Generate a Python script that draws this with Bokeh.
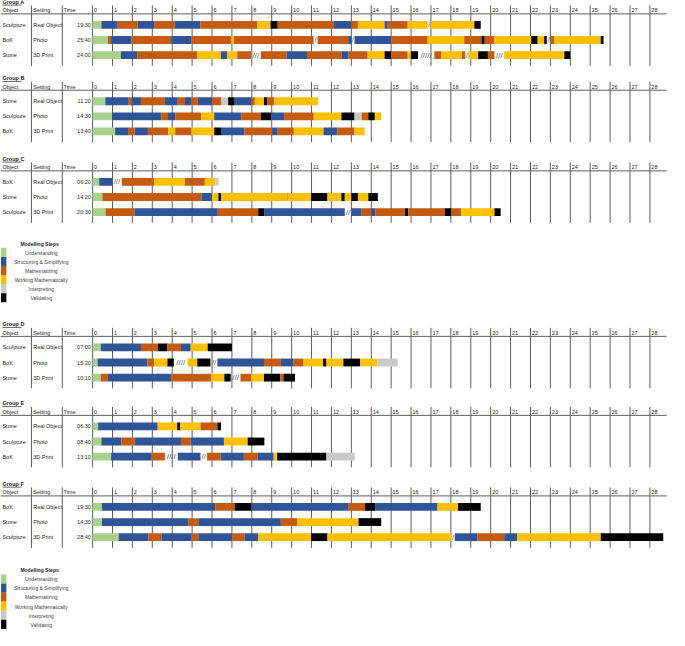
from bokeh.plotting import figure
from bokeh.models import Range1d, ColumnDataSource
from bokeh.embed import file_html
from bokeh.resources import INLINE
from bokeh.core.properties import value

# ---------------- data ----------------
group_titles = ["Group A", "Group B", "Group C", "Group D", "Group E", "Group F"]
header_labels = ["Object", "Setting", "Time"]
minute_ticks = list(range(0, 29))

step_codes = ["U", "S", "M", "W", "I", "V"]
step_names = ["Understanding", "Structuring & Simplifying", "Mathematizing",
              "Working Mathematically", "Interpreting", "Validating"]
legend_title = "Modelling Steps"

A_objects = ["Sculpture", "BoK", "Stone"]
A_settings = ["Real Object", "Photo", "3D Print"]
A_times = ["19:30", "25:40", "24:00"]
A1_steps = ["U", "S", "M", "S", "M", "S", "M", "W", "V", "M", "S", "M", "W", "S", "M", "W", "/", "W", "V"]
A1_ends = [0.44, 1.26, 2.27, 3.09, 4.12, 5.42, 8.28, 8.94, 9.3, 12.12, 13.0, 13.33, 14.67, 14.83, 15.83, 16.84, 17.0, 19.18, 19.5]
A2_steps = ["U", "M", "S", "M", "S", "M", "W", "M", "/", "M", "S", "/", "S", "M", "W", "M", "V", "M", "W", "V", "W", "V", "/", "M", "W", "V"]
A2_ends = [0.77, 0.93, 1.96, 3.95, 4.97, 6.97, 7.1, 11.1, 11.3, 12.84, 13.0, 13.16, 15.0, 16.84, 18.67, 19.54, 19.7, 20.19, 22.04, 22.36, 22.69, 22.82, 23.02, 23.18, 25.53, 25.67]
A3_steps = ["U", "S", "M", "W", "S", "W", "M", "/", "M", "S", "M", "S", "M", "W", "V", "M", "W", "V", "/", "M", "W", "M", "/", "W", "V", "M", "/", "W", "V"]
A3_ends = [1.42, 2.24, 5.26, 6.44, 6.76, 7.27, 7.96, 8.45, 9.75, 10.77, 12.5, 12.84, 13.82, 14.67, 15.0, 15.83, 15.99, 16.35, 17.17, 17.53, 18.56, 18.72, 18.88, 19.37, 19.86, 20.19, 20.68, 23.7, 24.0]

B_objects = ["Stone", "Sculpture", "BoK"]
B_settings = ["Real Object", "Photo", "3D Print"]
B_times = ["11:20", "14:30", "13:40"]
B1_steps = ["U", "S", "M", "S", "M", "S", "M", "S", "M", "S", "M", "I", "V", "S", "M", "W", "V", "M", "W"]
B1_ends = [0.64, 1.78, 1.94, 2.43, 3.63, 4.28, 4.64, 4.97, 5.29, 6.0, 6.45, 6.81, 7.14, 7.99, 8.15, 8.61, 8.77, 9.13, 11.33]
B2_steps = ["U", "S", "M", "S", "M", "W", "S", "M", "V", "S", "M", "W", "V", "I", "M", "V", "W"]
B2_ends = [0.98, 3.46, 3.79, 4.15, 5.46, 6.11, 7.47, 8.45, 8.97, 9.62, 11.11, 12.5, 13.16, 13.52, 13.85, 14.18, 14.5]
B3_steps = ["U", "S", "M", "S", "M", "W", "M", "W", "V", "S", "M", "S", "M", "W", "S", "M", "W"]
B3_ends = [1.13, 1.78, 2.11, 2.78, 3.79, 4.15, 4.97, 6.11, 6.45, 7.63, 9.02, 9.3, 10.11, 11.6, 12.3, 13.16, 13.67]

C_objects = ["BoK", "Stone", "Sculpture"]
C_settings = ["Real Object", "Photo", "3D Print"]
C_times = ["06:20", "14:20", "20:30"]
C1_steps = ["U", "S", "/", "M", "W", "M", "W", "I"]
C1_ends = [0.33, 0.98, 1.47, 3.1, 4.64, 5.64, 6.16, 6.33]
C2_steps = ["U", "M", "S", "W", "V", "W", "M", "W", "V", "W", "V", "W", "V", "W", "V"]
C2_ends = [0.49, 5.47, 6.0, 6.32, 6.45, 9.79, 9.84, 10.98, 11.8, 12.5, 12.67, 13.0, 13.33, 13.85, 14.33]
C3_steps = ["U", "M", "S", "M", "V", "S", "/", "S", "M", "S", "M", "V", "M", "V", "M", "W", "V"]
C3_ends = [0.65, 2.12, 6.29, 8.32, 8.64, 12.67, 13.0, 13.52, 14.0, 14.2, 15.7, 15.86, 17.69, 18.03, 18.52, 20.19, 20.5]

D_objects = ["Sculpture", "BoK", "Stone"]
D_settings = ["Real Object", "Photo", "3D Print"]
D_times = ["07:00", "15:20", "10:10"]
D1_steps = ["U", "S", "M", "V", "M", "S", "W", "V"]
D1_ends = [0.41, 2.43, 3.27, 3.76, 4.44, 4.93, 5.78, 7.0]
D2_steps = ["U", "S", "M", "W", "V", "/", "W", "V", "/", "S", "M", "S", "M", "W", "V", "W", "V", "W", "I"]
D2_ends = [0.25, 2.76, 3.09, 3.76, 4.08, 4.77, 5.26, 5.92, 6.27, 8.61, 9.46, 10.1, 10.6, 11.58, 11.75, 12.6, 13.45, 14.3, 15.33]
D3_steps = ["U", "M", "S", "M", "W", "V", "/", "M", "W", "V", "M", "V"]
D3_ends = [0.41, 0.77, 3.95, 5.95, 6.62, 6.94, 7.43, 7.96, 8.61, 9.43, 9.59, 10.17]

E_objects = ["Stone", "Sculpture", "BoK"]
E_settings = ["Real Object", "Photo", "3D Print"]
E_times = ["06:30", "08:40", "13:10"]
E1_steps = ["U", "S", "W", "V", "W", "M", "V"]
E1_ends = [0.28, 3.27, 4.25, 4.41, 5.42, 6.27, 6.45]
E2_steps = ["U", "S", "M", "S", "M", "S", "W", "V"]
E2_ends = [0.44, 1.45, 2.11, 4.44, 4.93, 6.6, 7.79, 8.63]
E3_steps = ["U", "S", "M", "/", "S", "/", "M", "S", "M", "S", "W", "V", "I"]
E3_ends = [0.93, 2.97, 3.63, 4.28, 5.42, 5.75, 6.44, 7.6, 8.28, 9.1, 9.27, 11.75, 13.17]

F_objects = ["BoK", "Stone", "Sculpture"]
F_settings = ["Real Object", "Photo", "3D Print"]
F_times = ["19:30", "14:30", "28:40"]
F1_steps = ["U", "S", "M", "V", "S", "M", "V", "S", "W", "V"]
F1_ends = [0.47, 6.16, 7.14, 7.99, 12.87, 13.69, 14.19, 17.33, 18.36, 19.5]
F2_steps = ["U", "S", "M", "S", "M", "W", "V"]
F2_ends = [0.47, 4.8, 5.31, 9.46, 10.29, 13.36, 14.5]
F3_steps = ["U", "S", "M", "S", "M", "S", "M", "S", "W", "V", "W", "/", "S", "M", "S", "W", "V"]
F3_ends = [1.31, 2.81, 3.46, 4.98, 5.31, 7.01, 7.63, 8.32, 10.98, 11.8, 18.03, 18.2, 19.34, 20.68, 21.33, 25.53, 28.67]

# ---------------- styles / layout ----------------
step_colors = {"U": "#A9D18E", "S": "#2F5597", "M": "#C55A11",
               "W": "#FFC000", "I": "#C9C9C9", "V": "#000000"}
FONT = value("Liberation Sans")
FS = "5.5px"
LINE_COL = "#5E5E5E"
X0 = 94.3          # reference px of minute 0
PPM = 20.38        # reference px per minute
REF_W, REF_H = 685, 646


def X(px):
    return (px - X0) / PPM


header_ys = [10, 88.3, 171, 340.7, 421.7, 504.3]
legend_title_ys = [249.3, 584.3]
ROW_OFF = [15, 30.5, 46]
BAR_H = 8

groups = [
    (A_objects, A_settings, A_times, [A1_steps, A2_steps, A3_steps], [A1_ends, A2_ends, A3_ends]),
    (B_objects, B_settings, B_times, [B1_steps, B2_steps, B3_steps], [B1_ends, B2_ends, B3_ends]),
    (C_objects, C_settings, C_times, [C1_steps, C2_steps, C3_steps], [C1_ends, C2_ends, C3_ends]),
    (D_objects, D_settings, D_times, [D1_steps, D2_steps, D3_steps], [D1_ends, D2_ends, D3_ends]),
    (E_objects, E_settings, E_times, [E1_steps, E2_steps, E3_steps], [E1_ends, E2_ends, E3_ends]),
    (F_objects, F_settings, F_times, [F1_steps, F2_steps, F3_steps], [F1_ends, F2_ends, F3_ends]),
]

p = figure(width=669, height=630, output_backend="svg", toolbar_location=None,
           x_range=Range1d(X(0), X(REF_W)), y_range=Range1d(REF_H, 0),
           x_axis_type=None, y_axis_type=None, min_border=0)
p.grid.visible = False
p.outline_line_color = None
p.background_fill_color = "white"
p.border_fill_color = "white"

bars = dict(left=[], right=[], top=[], bottom=[], color=[])
slashes = dict(x=[], y=[], text=[])
vl = dict(x0=[], y0=[], x1=[], y1=[])
hl = dict(x0=[], y0=[], x1=[], y1=[])
txt_left = dict(x=[], y=[], text=[])
txt_right = dict(x=[], y=[], text=[])
titles = dict(x=[], y=[], text=[])
ul = dict(x0=[], y0=[], x1=[], y1=[])

for gi, (objs, sets, times, steps_list, ends_list) in enumerate(groups):
    hy = header_ys[gi]
    titles["x"].append(X(2)); titles["y"].append(hy - 8.5); titles["text"].append(group_titles[gi])
    ul["x0"].append(X(2)); ul["x1"].append(X(21.5)); ul["y0"].append(hy - 5.3); ul["y1"].append(hy - 5.3)
    for lab, px in zip(header_labels, [2, 33.5, 64.5]):
        txt_left["x"].append(X(px)); txt_left["y"].append(hy); txt_left["text"].append(lab)
    for m in minute_ticks:
        txt_left["x"].append(m + 1.5 / PPM); txt_left["y"].append(hy); txt_left["text"].append(str(m))
    hl["x0"].append(X(0)); hl["x1"].append(X(682)); hl["y0"].append(hy + 3.7); hl["y1"].append(hy + 3.7)
    for xv in [X(31.7), X(63.3)] + [float(m) for m in minute_ticks]:
        vl["x0"].append(xv); vl["x1"].append(xv); vl["y0"].append(hy - 5); vl["y1"].append(hy + 57)
    for ri in range(3):
        ry = hy + ROW_OFF[ri]
        txt_left["x"].append(X(2)); txt_left["y"].append(ry); txt_left["text"].append(objs[ri])
        txt_left["x"].append(X(33.5)); txt_left["y"].append(ry); txt_left["text"].append(sets[ri])
        txt_right["x"].append(X(92.5)); txt_right["y"].append(ry); txt_right["text"].append(times[ri])
        start = 0.0
        for code, end in zip(steps_list[ri], ends_list[ri]):
            if code == "/":
                n = max(1, round((end - start) / 0.165))
                slashes["x"].append((start + end) / 2); slashes["y"].append(ry)
                slashes["text"].append("/" * n)
            else:
                bars["left"].append(start); bars["right"].append(end)
                bars["top"].append(ry - BAR_H / 2); bars["bottom"].append(ry + BAR_H / 2)
                bars["color"].append(step_colors[code])
            start = end

p.segment(x0="x0", y0="y0", x1="x1", y1="y1", source=ColumnDataSource(vl),
          line_color=LINE_COL, line_width=1)
p.segment(x0="x0", y0="y0", x1="x1", y1="y1", source=ColumnDataSource(hl),
          line_color=LINE_COL, line_width=1)
p.quad(left="left", right="right", top="top", bottom="bottom", color="color",
       source=ColumnDataSource(bars), line_color=None)
p.text(x="x", y="y", text="text", source=ColumnDataSource(slashes), text_font=FONT,
       text_font_size="8px", text_color="#595959", text_align="center", text_baseline="middle")
p.text(x="x", y="y", text="text", source=ColumnDataSource(txt_left), text_font=FONT,
       text_font_size=FS, text_color="#262626", text_align="left", text_baseline="middle")
p.text(x="x", y="y", text="text", source=ColumnDataSource(txt_right), text_font=FONT,
       text_font_size=FS, text_color="#262626", text_align="right", text_baseline="middle")
p.text(x="x", y="y", text="text", source=ColumnDataSource(titles), text_font=FONT,
       text_font_size=FS, text_font_style="bold", text_color="#262626",
       text_align="left", text_baseline="middle")
p.segment(x0="x0", y0="y0", x1="x1", y1="y1", source=ColumnDataSource(ul),
          line_color="#262626", line_width=0.7)

# legends
leg_sq = dict(left=[], right=[], top=[], bottom=[], color=[])
leg_txt = dict(x=[], y=[], text=[])
leg_title = dict(x=[], y=[], text=[])
for ty in legend_title_ys:
    leg_title["x"].append(X(40)); leg_title["y"].append(ty); leg_title["text"].append(legend_title)
    for k, (code, name) in enumerate(zip(step_codes, step_names)):
        top = ty + 4.3 + k * 9.3
        leg_sq["left"].append(X(0.5)); leg_sq["right"].append(X(6))
        leg_sq["top"].append(top); leg_sq["bottom"].append(top + 9.3)
        leg_sq["color"].append(step_colors[code])
        leg_txt["x"].append(X(41.7)); leg_txt["y"].append(top + 4.9); leg_txt["text"].append(name)

p.quad(left="left", right="right", top="top", bottom="bottom", color="color",
       source=ColumnDataSource(leg_sq), line_color=None)
p.text(x="x", y="y", text="text", source=ColumnDataSource(leg_txt), text_font=FONT,
       text_font_size="5px", text_color="#404040", text_align="center", text_baseline="middle")
p.text(x="x", y="y", text="text", source=ColumnDataSource(leg_title), text_font=FONT,
       text_font_size="5px", text_font_style="bold", text_color="#262626",
       text_align="center", text_baseline="middle")

open("out.html", "w").write(file_html(p, INLINE))
